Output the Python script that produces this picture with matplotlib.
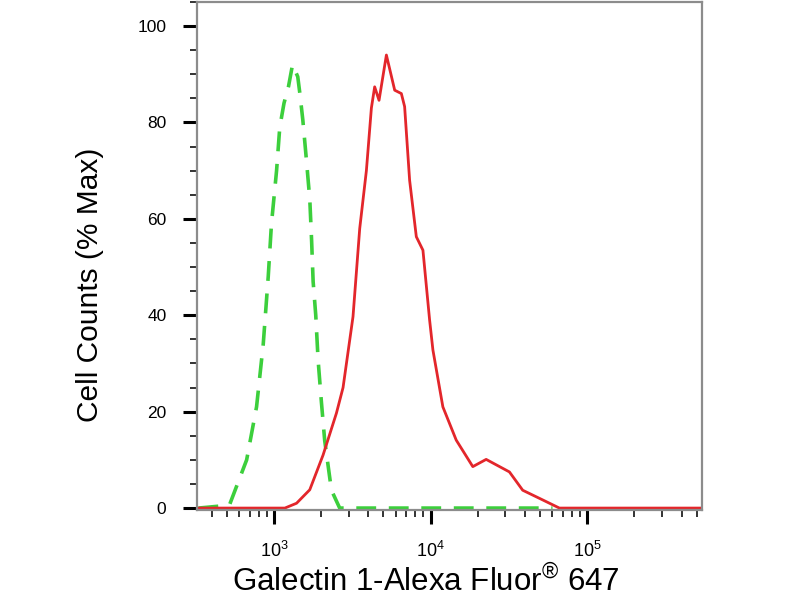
import matplotlib
matplotlib.use('Agg')
import matplotlib.pyplot as plt
from matplotlib.ticker import LogLocator, MultipleLocator, NullFormatter, FixedLocator

plt.rcParams['font.family'] = ['Liberation Sans', 'DejaVu Sans']
plt.rcParams['mathtext.fontset'] = 'custom'
plt.rcParams['mathtext.rm'] = 'Liberation Sans'
plt.rcParams['mathtext.it'] = 'Liberation Sans'

# isotype control (green dashed)
iso_x = [330, 520, 670, 775, 855, 920, 965, 1040, 1090, 1160, 1240, 1315, 1420, 1465,
         1530, 1615, 1695, 1740, 1780, 1850, 1915, 2010, 2110, 2330, 2630, 60000]
iso_y = [0, 0.6, 10, 21, 34, 48, 59, 70, 79, 84, 87.5, 92, 89.5, 86,
         80.5, 72, 64, 55.6, 47, 40, 30.7, 22, 14, 3.7, 0, 0]

# Galectin 1 stained (red)
gal_x = [330, 1175, 1395, 1694, 2060, 2507, 2763, 3198, 3530, 3893, 4190, 4397, 4689,
         5224, 5902, 6509, 6829, 7350, 8110, 8939, 9860, 10350, 11980, 14580, 18600,
         22630, 31860, 38730, 51900, 66400, 540000]
gal_y = [0, 0, 1, 3.8, 11, 19.7, 25, 39.7, 58, 70, 83, 87.4, 84.6,
         94, 86.7, 86, 83.3, 68, 56.3, 53.5, 39, 32.8, 21, 14.1, 8.6,
         10.1, 7.5, 3.7, 1.7, 0, 0]

y_ticks = [0, 20, 40, 60, 80, 100]
x_ticks = [1e3, 1e4, 1e5]
x_ticklabels = ['$10^{3}$', '$10^{4}$', '$10^{5}$']

fig = plt.figure(figsize=(8, 6), dpi=100)
ax = fig.add_axes([197 / 800, 90 / 600, 505 / 800, 508 / 600])

ax.plot(iso_x, iso_y, color='#3ccf3c', lw=2.6, dashes=(5.5, 3.5))
ax.plot(gal_x, gal_y, color='#e3262b', lw=2.0)

ax.set_xscale('log')
ax.set_xlim(323, 540000)
ax.set_ylim(-0.4, 105)

ax.xaxis.set_major_locator(FixedLocator(x_ticks))
ax.set_xticklabels(x_ticklabels, fontsize=13)
ax.xaxis.set_minor_locator(LogLocator(base=10, subs=range(2, 10), numticks=20))
ax.xaxis.set_minor_formatter(NullFormatter())

ax.yaxis.set_major_locator(FixedLocator(y_ticks))
ax.set_yticklabels([str(v) for v in y_ticks], fontsize=12.5)
ax.yaxis.set_minor_locator(MultipleLocator(5))

ax.tick_params(axis='both', which='major', direction='out', length=10, width=2.2, color='black')
ax.tick_params(axis='both', which='minor', direction='out', length=5, width=1.4, color='#333333')
ax.tick_params(axis='y', which='major', pad=12)
ax.tick_params(axis='x', which='major', pad=12)

for s in ax.spines.values():
    s.set_color('#8c8c8c')
    s.set_linewidth(1.6)

ax.set_ylabel('Cell Counts (% Max)', fontsize=21.5)
ax.yaxis.set_label_coords(-0.184, 0.443)
ax.set_xlabel('Galectin 1-Alexa Fluor$^{\u00ae}$ 647', fontsize=22.5)
ax.xaxis.set_label_coords(0.453, -0.108)

fig.savefig('out.png', dpi=100)
